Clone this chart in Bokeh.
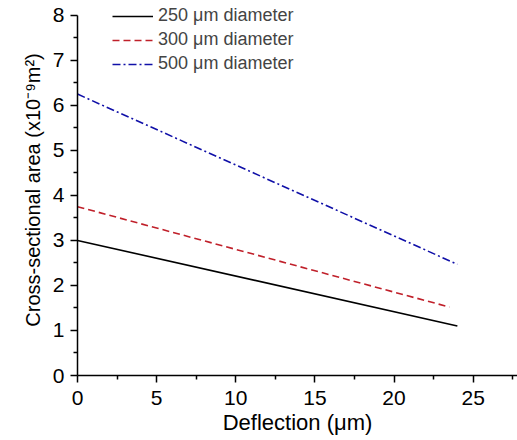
from bokeh.plotting import figure
from bokeh.models import Range1d, Legend, LegendItem, FixedTicker
from bokeh.embed import file_html
from bokeh.resources import INLINE

deflection = [0, 24]
area_250 = [3.0, 1.1]
deflection_300 = [0, 23.5]
area_300 = [3.75, 1.52]
deflection_500 = [0, 24]
area_500 = [6.25, 2.47]
labels = ["250 \u03bcm diameter", "300 \u03bcm diameter", "500 \u03bcm diameter"]

FONT = "Liberation Sans"

p = figure(frame_width=440, frame_height=371, output_backend="svg", toolbar_location=None,
           x_range=Range1d(0, 27.8), y_range=Range1d(0, 8.24),
           min_border_left=77, min_border_right=0, min_border_top=4, min_border_bottom=0)
p.outline_line_color = None
p.xgrid.visible = False
p.ygrid.visible = False

r1 = p.line(deflection, area_250, line_color="black", line_width=1.6)
r2 = p.line(deflection_300, area_300, line_color="#c0202a", line_width=1.6, line_dash="7 4")
r3 = p.line(deflection_500, area_500, line_color="#1010a8", line_width=1.6, line_dash="8 3 2 3")

for ax in (p.xaxis[0], p.yaxis[0]):
    ax.axis_line_width = 1.5
    ax.major_tick_line_width = 1.5
    ax.minor_tick_line_width = 1.5
    ax.major_tick_out = 7
    ax.major_tick_in = 0
    ax.minor_tick_out = 4
    ax.minor_tick_in = 0
    ax.major_label_text_font = FONT
    ax.major_label_text_font_size = "21px"
    ax.major_label_text_color = "black"
    ax.axis_label_text_font = FONT
    ax.axis_label_text_font_style = "normal"
    ax.axis_label_text_color = "black"

p.yaxis[0].bounds = (0, 8)
p.xaxis[0].axis_label_text_font_size = "22px"
p.yaxis[0].axis_label_text_font_size = "20px"
p.xaxis[0].ticker = FixedTicker(ticks=[0, 5, 10, 15, 20, 25],
                                minor_ticks=[2.5, 7.5, 12.5, 17.5, 22.5, 27.5])
p.yaxis[0].ticker = FixedTicker(ticks=[0, 1, 2, 3, 4, 5, 6, 7, 8],
                                minor_ticks=[0.5, 1.5, 2.5, 3.5, 4.5, 5.5, 6.5, 7.5])
p.xaxis[0].axis_label = "Deflection (\u03bcm)"
p.yaxis[0].axis_label = "Cross-sectional area (x10\u207b\u2079m\u00b2)"
p.xaxis[0].major_label_standoff = 8
p.yaxis[0].major_label_standoff = 6
p.xaxis[0].axis_label_standoff = 2
p.yaxis[0].axis_label_standoff = 6

legend = Legend(items=[LegendItem(label=labels[0], renderers=[r1]),
                       LegendItem(label=labels[1], renderers=[r2]),
                       LegendItem(label=labels[2], renderers=[r3])],
                location=(35, 301), border_line_color=None, background_fill_alpha=0,
                label_text_font=FONT, label_text_font_size="18px",
                glyph_width=41, glyph_height=16, spacing=3, padding=0, margin=0,
                label_standoff=5, label_height=16)
p.add_layout(legend, "center")

open("out.html", "w").write(file_html(p, INLINE))
